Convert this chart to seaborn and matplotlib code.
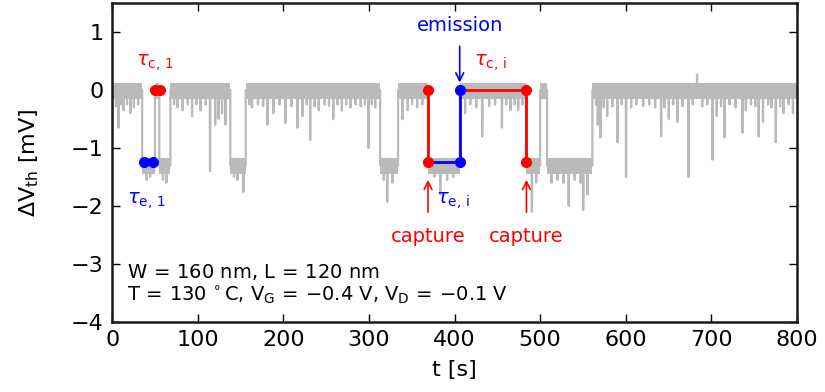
import numpy as np
import pandas as pd
import matplotlib
matplotlib.use("Agg")
import matplotlib.pyplot as plt
import seaborn as sns

# ---------------- data ----------------
# RTN trace: piecewise levels (start time of each segment, level in mV)
seg_start = [0, 35, 50, 55, 68, 138, 156, 313, 334, 369, 406, 484, 500, 508, 561]
seg_level = [0, -1.3, 0, -1.3, 0, -1.3, 0, -1.3, 0, -1.3, 0, -1.3, 0, -1.3, 0]
t_end = 800

# spikes (time [s], extreme value [mV])
spike_t = [4, 7, 10, 13, 17, 21, 25, 30,
           40, 44, 59, 63,
           72, 76, 82, 88, 93, 98, 103, 109, 114, 120, 124, 128, 132,
           142, 146, 153,
           160, 163, 170, 176, 181, 188, 195, 202, 209, 216, 222, 227, 231, 236, 241, 248,
           253, 258, 263, 268, 273, 278, 284, 290, 295, 299, 303, 307,
           317, 321, 327,
           339, 345, 350, 356, 362,
           376, 383, 391, 398,
           412, 418, 425, 432, 440, 447, 455, 460, 465, 470, 474, 479,
           490, 495,
           513, 520, 527, 533, 540, 547, 550, 555,
           565, 567, 570, 574, 578, 584, 590, 595, 600, 606, 612, 620, 627, 634, 641, 645, 650,
           655, 660, 666, 673, 678, 683, 689, 695, 701, 706, 711, 715, 721, 728, 736, 740,
           746, 751, 755, 760, 766, 770, 775, 780, 784, 790, 795]
spike_v = [-0.28, -0.65, -0.25, -0.35, -0.25, -0.40, -0.30, -0.25,
           -1.55, -1.5, -1.55, -1.6,
           -0.25, -0.30, -0.35, -0.25, -0.45, -0.25, -0.35, -0.25, -1.40, -0.60, -0.50, -0.40, -0.60,
           -1.5, -1.55, -1.76,
           -0.25, -0.30, -0.25, -0.28, -0.60, -0.40, -0.25, -0.57, -0.28, -0.65, -0.45, -0.25, -0.86, -0.28, -0.35, -0.25,
           -0.27, -0.50, -0.25, -0.35, -0.25, -0.30, -0.25, -0.28, -0.25, -1.00, -0.25, -0.30,
           -1.55, -1.93, -1.6,
           -0.50, -0.35, -0.25, -0.30, -0.25,
           -1.5, -1.80, -1.55, -1.5,
           -0.40, -0.25, -0.30, -0.80, -0.28, -0.25, -0.65, -0.25, -0.35, -0.25, -0.35, -0.25,
           -2.10, -1.6,
           -1.6, -1.55, -1.6, -2.00, -1.55, -1.6, -2.07, -1.80,
           -0.25, -0.60, -0.82, -0.30, -0.45, -0.28, -0.90, -0.25, -1.50, -0.30, -0.25, -0.28, -0.25, -0.30, -0.80, -0.30, -0.50,
           -0.25, -0.55, -0.28, -1.50, -0.25, 0.27, -0.28, -0.25, -1.20, -0.45, -0.28, -0.82, -0.25, -0.30, -0.74, -0.35,
           -0.25, -0.28, -0.80, -0.55, -0.25, -0.30, -0.90, -0.28, -0.40, -0.25, -0.40]

band_up = 0.13
band_dn = 0.15

# extracted capture/emission events
tau1_e_t = [37.4, 47.9]
tau1_e_v = [-1.25, -1.25]
tau1_c_t = [50.2, 56.0]
tau1_c_v = [0.0, 0.0]

t_cap1, t_emi, t_cap2 = 369, 406, 484
lvl_hi, lvl_lo = 0.0, -1.25

# ---------------- build trace ----------------
seg_end = seg_start[1:] + [t_end]
pts_t, pts_v = [], []
for a, b, L in zip(seg_start, seg_end, seg_level):
    pts_t.append(a); pts_v.append(L)
    for st, sv in sorted(zip(spike_t, spike_v)):
        if a < st < b - 0.5:
            pts_t += [st, st + 0.3, st + 0.7]
            pts_v += [L, sv, L]
    pts_t.append(b); pts_v.append(L)
trace = pd.DataFrame({"t": pts_t, "v": pts_v})

gray = "#bababa"
red = "#ff0000"
blue = "#0000ff"

sns.set_style("ticks")
plt.rcParams.update({
    "mathtext.default": "regular",
    "text.color": "black",
    "axes.labelcolor": "black",
    "xtick.color": "black",
    "ytick.color": "black",
})
plt.rcParams["font.family"] = ["DejaVu Sans"]

fig = plt.figure(figsize=(8.25, 3.92), dpi=100)
ax = fig.add_axes([0.136, 0.179, 0.830, 0.813])

# noise band
for a, b, L in zip(seg_start, seg_end, seg_level):
    ax.fill_between([a, b], [L + band_up] * 2, [L - band_dn] * 2, color=gray, lw=0, zorder=1)
sns.lineplot(data=trace, x="t", y="v", sort=False, estimator=None, color=gray, lw=1.6, ax=ax, zorder=2)

# tau_1 markers
sns.lineplot(x=tau1_e_t, y=tau1_e_v, sort=False, estimator=None, color=blue, lw=2, ax=ax, zorder=4)
sns.lineplot(x=tau1_c_t, y=tau1_c_v, sort=False, estimator=None, color=red, lw=2, ax=ax, zorder=4)
ax.plot(tau1_e_t, tau1_e_v, "o", color=blue, ms=7, zorder=5)
ax.plot(tau1_c_t, tau1_c_v, "o", color=red, ms=7, zorder=5)

# tau_i events
sns.lineplot(x=[t_cap1, t_emi], y=[lvl_lo, lvl_lo], sort=False, estimator=None, color=blue, lw=2, ax=ax, zorder=4)
sns.lineplot(x=[t_emi, t_emi], y=[lvl_lo, lvl_hi], sort=False, estimator=None, color=blue, lw=2, ax=ax, zorder=4)
sns.lineplot(x=[t_cap1, t_cap1], y=[lvl_hi, lvl_lo], sort=False, estimator=None, color=red, lw=2, ax=ax, zorder=4)
sns.lineplot(x=[t_emi, t_cap2], y=[lvl_hi, lvl_hi], sort=False, estimator=None, color=red, lw=2, ax=ax, zorder=4)
sns.lineplot(x=[t_cap2, t_cap2], y=[lvl_hi, lvl_lo], sort=False, estimator=None, color=red, lw=2, ax=ax, zorder=4)
ax.plot([t_cap1, t_cap1, t_cap2, t_cap2], [lvl_hi, lvl_lo, lvl_hi, lvl_lo], "o", color=red, ms=7, zorder=5)
ax.plot([t_emi, t_emi], [lvl_lo, lvl_hi], "o", color=blue, ms=7, zorder=5)

fs_a = 14
ax.text(50, 0.47, r"$\mathit{\tau}_{c,\,1}$", color=red, fontsize=fs_a, ha="center", va="center")
ax.text(40, -1.9, r"$\mathit{\tau}_{e,\,1}$", color=blue, fontsize=fs_a, ha="center", va="center")
ax.text(442, 0.47, r"$\mathit{\tau}_{c,\,i}$", color=red, fontsize=fs_a, ha="center", va="center")
ax.text(398, -1.9, r"$\mathit{\tau}_{e,\,i}$", color=blue, fontsize=fs_a, ha="center", va="center")

ax.annotate("emission", xy=(t_emi, 0.13), xytext=(t_emi, 1.12), color=blue, fontsize=fs_a,
            ha="center", va="center",
            arrowprops=dict(arrowstyle="->", color=blue, lw=1.2, shrinkA=6, shrinkB=0))
for tc in (t_cap1, t_cap2):
    ax.annotate("capture", xy=(tc, -1.55), xytext=(tc, -2.52), color=red, fontsize=fs_a,
                ha="center", va="center",
                arrowprops=dict(arrowstyle="->", color=red, lw=1.2, shrinkA=8, shrinkB=0))

ax.text(17, -3.14, r"W$\,=\,$160 nm, L$\,=\,$120 nm", fontsize=fs_a, ha="left", va="center")
ax.text(17, -3.55, "T$\\,=\\,$130$\\,^\\circ$C, V$_G\\,=\\,$\u22120.4 V, V$_D\\,=\\,$\u22120.1 V",
        fontsize=fs_a, ha="left", va="center")

ax.set_xlim(0, 800)
ax.set_ylim(-4, 1.5)
ax.set_xticks(np.arange(0, 801, 100))
ax.set_yticks(np.arange(-4, 2, 1))
ax.set_xlabel("t [s]", fontsize=16, labelpad=7)
ax.set_ylabel(r"$\Delta$V$_{th}$ [mV]", fontsize=16, labelpad=22)
ax.tick_params(direction="in", length=6, width=1, labelsize=16, top=True, right=True, pad=6)
for s in ax.spines.values():
    s.set_linewidth(1.8)
    s.set_color("#1a1a1a")
    s.set_visible(True)

fig.savefig("out.png", dpi=100)
